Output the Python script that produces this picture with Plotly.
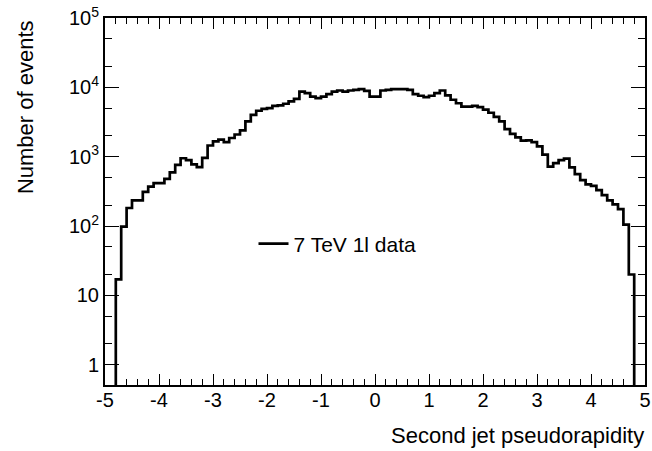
import numpy as np
import plotly.graph_objects as go

# Histogram: second jet pseudorapidity, 96 bins of width 0.1 from -4.8 to 4.8
eta_low = -4.8
eta_high = 4.8
counts = [
    17, 98, 182, 234, 234, 310, 370, 415, 415, 480,
    595, 760, 950, 890, 775, 705, 960, 1450, 1660, 1760,
    1620, 1860, 2090, 2400, 3240, 4000, 4600, 4900, 5000, 5400,
    5490, 5800, 6260, 6840, 8700, 8260, 7360, 7000, 7360, 7960,
    8700, 9000, 8700, 9000, 9200, 9400, 8900, 7360, 7360, 9000,
    9200, 9400, 9400, 9400, 9200, 7960, 7560, 7220, 7560, 8260,
    9000, 7640, 6620, 5900, 5270, 5270, 5400, 5190, 4760, 4300,
    3750, 3240, 2500, 2130, 1900, 1700, 1720, 1620, 1410, 1070,
    720, 810, 890, 935, 700, 560, 460, 400, 380, 330,
    280, 235, 205, 175, 105, 20,
]
baseline = 1e-2  # histogram outline returns to zero (below axis range)

x_tickvals = [-5, -4, -3, -2, -1, 0, 1, 2, 3, 4, 5]
x_ticktext = ["-5", "-4", "-3", "-2", "-1", "0", "1", "2", "3", "4", "5"]
y_tickvals = [1, 10, 100, 1000, 10000, 100000]
y_ticktext = ["1", "10", "10<sup>2</sup>", "10<sup>3</sup>", "10<sup>4</sup>", "10<sup>5</sup>"]

series_name = "7 TeV 1l data"
x_title = "Second jet pseudorapidity"
y_title = "Number of events"

edges = np.linspace(eta_low, eta_high, len(counts) + 1)
xs = [edges[0]] + list(edges[:-1]) + [edges[-1]]
ys = [baseline] + list(counts) + [baseline]

FONT = "Liberation Sans, Arial, Helvetica, sans-serif"

fig = go.Figure()
fig.add_trace(go.Scatter(
    x=xs, y=ys, mode="lines", line=dict(shape="hv", color="black", width=2.7),
    name=series_name, showlegend=True,
))

fig.update_layout(
    width=652, height=451,
    margin=dict(l=105, r=7, t=18, b=66, autoexpand=False),
    paper_bgcolor="white", plot_bgcolor="white",
    font=dict(family=FONT, size=20, color="black"),
    showlegend=True,
    legend=dict(x=0.275, y=0.384, xanchor="left", yanchor="middle",
                bgcolor="rgba(0,0,0,0)", borderwidth=0,
                font=dict(family=FONT, size=21, color="black")),
    xaxis=dict(
        range=[-5, 5], tickvals=x_tickvals, ticktext=x_ticktext,
        ticks="inside", ticklen=11, tickwidth=1.2, automargin=False,
        tickcolor="black", showline=True, linewidth=2, linecolor="black",
        mirror="ticks", showgrid=False, zeroline=False, ticklabelstandoff=-4,
        minor=dict(ticks="inside", ticklen=6, tickwidth=1.2, tickcolor="black", dtick=0.2, showgrid=False),
        tickfont=dict(family=FONT, size=20),
    ),
    yaxis=dict(
        type="log", range=[np.log10(0.51), 5], tickvals=y_tickvals, ticktext=y_ticktext,
        ticks="inside", ticklen=14, tickwidth=1.2, tickcolor="black", automargin=False,
        showline=True, linewidth=2, linecolor="black", mirror="ticks",
        showgrid=False, zeroline=False,
        minor=dict(ticks="inside", ticklen=7, tickwidth=1.2, tickcolor="black", showgrid=False),
        tickfont=dict(family=FONT, size=20),
    ),
    annotations=[
        dict(text=x_title, xref="paper", yref="paper", x=1.0, y=-0.102,
             xanchor="right", yanchor="top", showarrow=False, borderpad=0,
             font=dict(family=FONT, size=22)),
        dict(text=y_title, xref="paper", yref="paper", x=-0.148, y=1.0,
             xanchor="center", yanchor="top", textangle=-90, showarrow=False,
             font=dict(family=FONT, size=22)),
    ],
)

fig.write_html("out.html")
